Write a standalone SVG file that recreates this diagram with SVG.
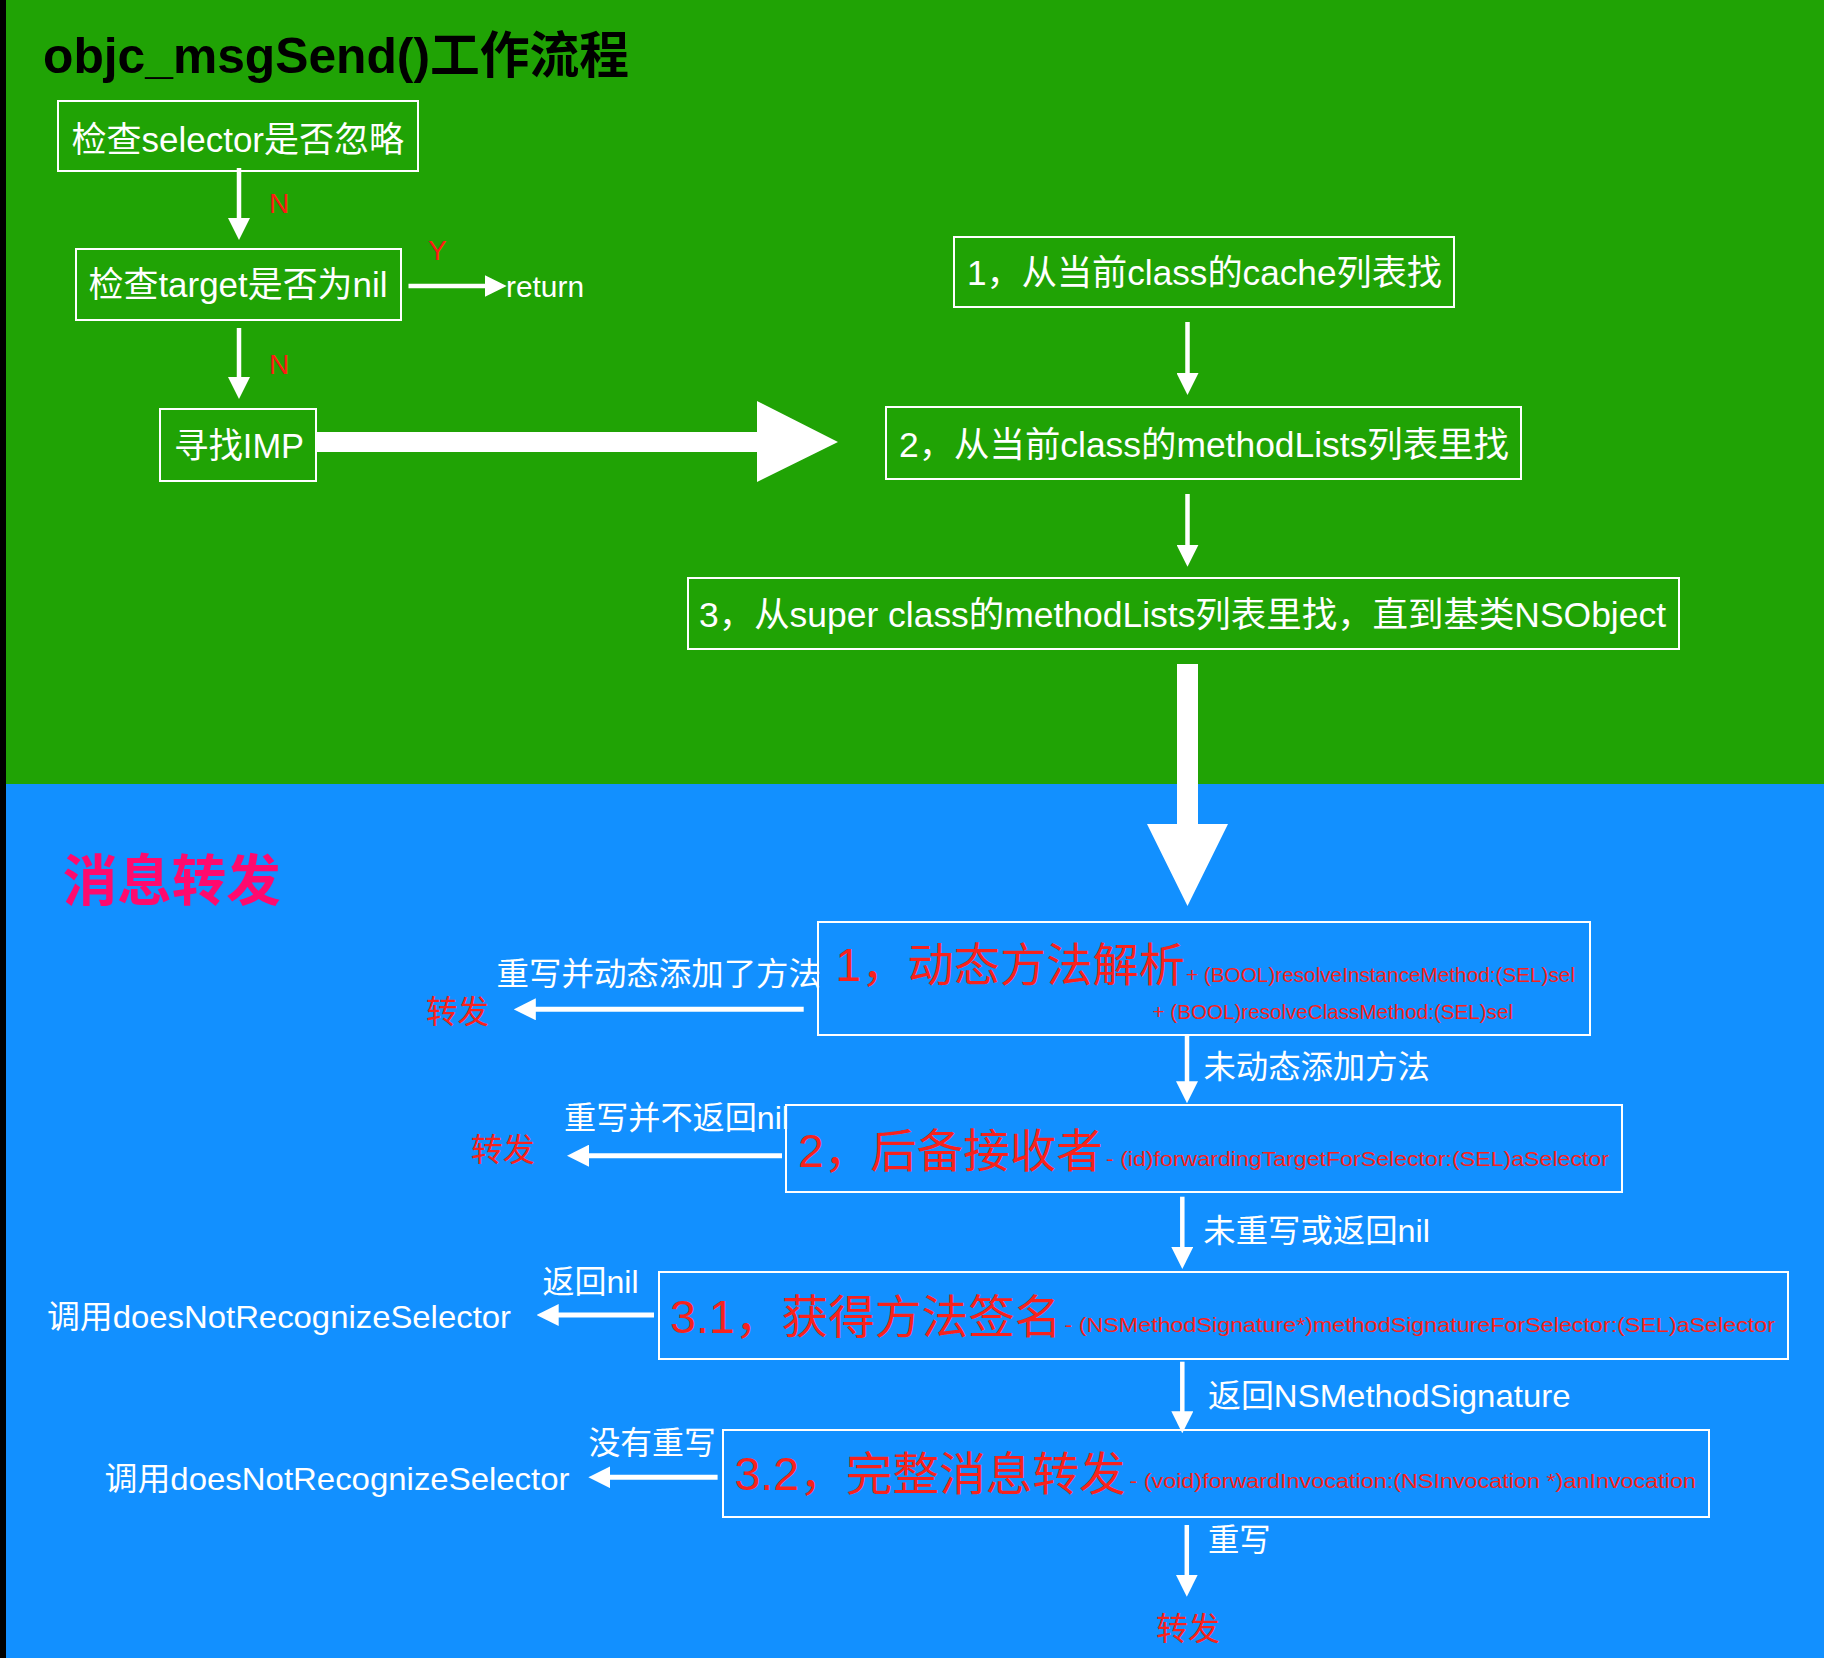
<svg xmlns="http://www.w3.org/2000/svg" width="1824" height="1658" viewBox="0 0 1824 1658">
<style>
text{font-family:"Liberation Sans","Noto Sans CJK SC",sans-serif;}
.box{fill:none;stroke:#fff;stroke-width:2;}
.yn{fill:#ff1a12;font-size:28px;}
.t35{font-size:35px;fill:#fff;}
.t32{font-size:32px;fill:#fff;}
.red{font-size:32px;fill:#f8221c;}
.big{font-size:46px;fill:#f8221c;}
.sig{font-size:21px;fill:#f8221c;}
.ln{stroke:#fff;stroke-width:4.5;fill:none;marker-end:url(#ah);}
.lnl{stroke:#fff;stroke-width:5;fill:none;marker-end:url(#ah);}
</style>
<defs>
<marker id="ah" markerUnits="userSpaceOnUse" markerWidth="22" markerHeight="22" viewBox="0 0 22 22" refX="1" refY="11" orient="auto">
<path d="M0,0 L22,11 L0,22 z" fill="#fff"/>
</marker>
</defs>
<g id="background">
<rect x="0" y="0" width="1824" height="784" fill="#20a305"/>
<rect x="0" y="784" width="1824" height="874" fill="#1290ff"/>
<rect x="0" y="0" width="6" height="1658" fill="#000"/>
</g>
<g id="titles">
<text x="43" y="73" font-size="50" font-weight="bold" fill="#000" textLength="586" lengthAdjust="spacingAndGlyphs">objc_msgSend()工作流程</text>
<text x="62.7" y="900" font-size="55" font-weight="bold" fill="#ff0a6e" textLength="218" lengthAdjust="spacingAndGlyphs">消息转发</text>
</g>
<g id="node-check-selector">
<rect class="box" x="58" y="101" width="360" height="70"/>
<text class="t35" x="71.5" y="152" textLength="332.5" lengthAdjust="spacingAndGlyphs">检查selector是否忽略</text>
</g>
<g id="node-check-target">
<rect class="box" x="76" y="249" width="325" height="71"/>
<text class="t35" x="88.5" y="297" textLength="299" lengthAdjust="spacingAndGlyphs">检查target是否为nil</text>
</g>
<g id="node-return">
<text x="506" y="297" font-size="30" fill="#fff" textLength="78" lengthAdjust="spacingAndGlyphs">return</text>
</g>
<g id="node-find-imp">
<rect class="box" x="160" y="409" width="156" height="72"/>
<text class="t35" x="174" y="458" textLength="130" lengthAdjust="spacingAndGlyphs">寻找IMP</text>
</g>
<g id="node-cache">
<rect class="box" x="954" y="237" width="500" height="70"/>
<text class="t35" x="967" y="285" textLength="475" lengthAdjust="spacingAndGlyphs">1，从当前class的cache列表找</text>
</g>
<g id="node-methodlists">
<rect class="box" x="886" y="407" width="635" height="72"/>
<text class="t35" x="899" y="457" textLength="610" lengthAdjust="spacingAndGlyphs">2，从当前class的methodLists列表里找</text>
</g>
<g id="node-superclass">
<rect class="box" x="688" y="578" width="991" height="71"/>
<text class="t35" x="699" y="627" textLength="967" lengthAdjust="spacingAndGlyphs">3，从super class的methodLists列表里找，直到基类NSObject</text>
</g>
<g id="node-resolve">
<rect class="box" x="818" y="922" width="772" height="113"/>
<text class="big" x="835.6" y="981" textLength="349.4" lengthAdjust="spacingAndGlyphs">1，动态方法解析</text>
<text class="sig" x="1186" y="981.7" textLength="389" lengthAdjust="spacingAndGlyphs">+ (BOOL)resolveInstanceMethod:(SEL)sel</text>
<text class="sig" x="1152.5" y="1019" textLength="360.5" lengthAdjust="spacingAndGlyphs">+ (BOOL)resolveClassMethod:(SEL)sel</text>
</g>
<g id="node-backup-receiver">
<rect class="box" x="786" y="1105" width="836" height="87"/>
<text class="big" x="798" y="1167" textLength="304.7" lengthAdjust="spacingAndGlyphs">2，后备接收者</text>
<text class="sig" x="1106" y="1165.5" textLength="503" lengthAdjust="spacingAndGlyphs">- (id)forwardingTargetForSelector:(SEL)aSelector</text>
</g>
<g id="node-signature">
<rect class="box" x="659" y="1272" width="1129" height="87"/>
<text class="big" x="670" y="1333" textLength="391.5" lengthAdjust="spacingAndGlyphs">3.1，获得方法签名</text>
<text class="sig" x="1064.5" y="1331.7" textLength="710.5" lengthAdjust="spacingAndGlyphs">- (NSMethodSignature*)methodSignatureForSelector:(SEL)aSelector</text>
</g>
<g id="node-full-forward">
<rect class="box" x="723" y="1430" width="986" height="87"/>
<text class="big" x="734.4" y="1490" textLength="391.3" lengthAdjust="spacingAndGlyphs">3.2，完整消息转发</text>
<text class="sig" x="1129.4" y="1488.3" textLength="566.6" lengthAdjust="spacingAndGlyphs">- (void)forwardInvocation:(NSInvocation *)anInvocation</text>
</g>
<g id="node-forward-1"><text class="red" x="426" y="1022.5" textLength="63" lengthAdjust="spacingAndGlyphs">转发</text></g>
<g id="node-forward-2"><text class="red" x="470.7" y="1160.5" textLength="64.3" lengthAdjust="spacingAndGlyphs">转发</text></g>
<g id="node-forward-3"><text class="red" x="1156" y="1640" textLength="64" lengthAdjust="spacingAndGlyphs">转发</text></g>
<g id="node-dnr-1"><text class="t32" x="47" y="1327.7" textLength="464" lengthAdjust="spacingAndGlyphs">调用doesNotRecognizeSelector</text></g>
<g id="node-dnr-2"><text class="t32" x="104.5" y="1490" textLength="465" lengthAdjust="spacingAndGlyphs">调用doesNotRecognizeSelector</text></g>
<g id="connectors">
<line class="ln" x1="239" y1="168" x2="239" y2="219"/>
<line class="ln" x1="239" y1="328" x2="239" y2="378"/>
<line class="ln" x1="408.5" y1="286" x2="485.7" y2="286"/>
<line class="ln" x1="1187.5" y1="322" x2="1187.5" y2="374"/>
<line class="ln" x1="1187.5" y1="494" x2="1187.5" y2="545.7"/>
<polygon fill="#fff" points="316,432 757,432 757,401 838,442 757,482 757,452 316,452"/>
<polygon fill="#fff" points="1177,664 1198,664 1198,824 1228,824 1187.5,906 1147,824 1177,824"/>
<line class="ln" x1="1187" y1="1035" x2="1187" y2="1082.3"/>
<line class="ln" x1="1182.3" y1="1196.7" x2="1182.3" y2="1248"/>
<line class="ln" x1="1182.3" y1="1361.7" x2="1182.3" y2="1412.3"/>
<line class="ln" x1="1186.8" y1="1525" x2="1186.8" y2="1575.7"/>
<line class="lnl" x1="803.7" y1="1009.3" x2="534.8" y2="1009.3"/>
<line class="lnl" x1="782" y1="1155.7" x2="588" y2="1155.7"/>
<line class="lnl" x1="654" y1="1315" x2="557.7" y2="1315"/>
<line class="lnl" x1="717.6" y1="1477.3" x2="609.4" y2="1477.3"/>
<text class="yn" x="269" y="213">N</text>
<text class="yn" x="269" y="374">N</text>
<text class="yn" x="428" y="260">Y</text>
<text class="t32" x="496.6" y="985" textLength="324.4" lengthAdjust="spacingAndGlyphs">重写并动态添加了方法</text>
<text class="t32" x="1203.4" y="1077.5" textLength="226.6" lengthAdjust="spacingAndGlyphs">未动态添加方法</text>
<text class="t32" x="564" y="1129" textLength="225" lengthAdjust="spacingAndGlyphs">重写并不返回nil</text>
<text class="t32" x="1203.3" y="1242" textLength="226.7" lengthAdjust="spacingAndGlyphs">未重写或返回nil</text>
<text class="t32" x="542.5" y="1293" textLength="96" lengthAdjust="spacingAndGlyphs">返回nil</text>
<text class="t32" x="1208" y="1406.7" textLength="362.5" lengthAdjust="spacingAndGlyphs">返回NSMethodSignature</text>
<text class="t32" x="588.4" y="1454" textLength="127.4" lengthAdjust="spacingAndGlyphs">没有重写</text>
<text class="t32" x="1208" y="1551" textLength="62.7" lengthAdjust="spacingAndGlyphs">重写</text>
</g>
</svg>
